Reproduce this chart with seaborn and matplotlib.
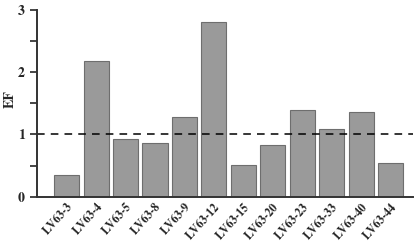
import matplotlib
matplotlib.use("Agg")
import matplotlib.pyplot as plt
from matplotlib.ticker import MultipleLocator
import pandas as pd
import seaborn as sns

samples = ["LV63-3", "LV63-4", "LV63-5", "LV63-8", "LV63-9", "LV63-12",
           "LV63-15", "LV63-20", "LV63-23", "LV63-33", "LV63-40", "LV63-44"]
ef_values = [0.35, 2.18, 0.92, 0.86, 1.28, 2.81, 0.51, 0.83, 1.39, 1.08, 1.36, 0.54]
threshold = 1.0

df = pd.DataFrame({"sample": samples, "EF": ef_values})

sns.set_style("ticks")
plt.rcParams["font.family"] = ["TeX Gyre Termes", "Liberation Serif", "DejaVu Serif"]
plt.rcParams["font.weight"] = "bold"

fig, ax = plt.subplots(figsize=(4.17, 2.43), dpi=100)
sns.barplot(data=df, x="sample", y="EF", color="#9a9a9a", saturation=1,
            edgecolor="#6e6e6e", linewidth=0.8, width=0.85, ax=ax)
ax.axhline(threshold, color="black", linestyle=(0, (5, 4)), linewidth=1.1)

ax.set_ylim(0, 3)
ax.set_xlim(-1.0, 11.75)
ax.yaxis.set_major_locator(MultipleLocator(1))
ax.yaxis.set_minor_locator(MultipleLocator(0.5))
ax.tick_params(axis="y", which="major", length=5, width=1.2, labelsize=10, pad=4)
ax.tick_params(axis="y", which="minor", length=5, width=1.2)
ax.tick_params(axis="x", length=0, labelsize=8.5, pad=3)
for lbl in ax.get_xticklabels():
    lbl.set_rotation(48)
    lbl.set_ha("right")
    lbl.set_va("top")
    lbl.set_rotation_mode("anchor")
    lbl.set_fontweight("bold")
for lbl in ax.get_yticklabels():
    lbl.set_fontweight("bold")
ax.set_xlabel("")
ax.set_ylabel("EF", fontsize=10, fontweight="bold")
ax.yaxis.set_label_coords(-0.055, 0.52)
for side in ("top", "right"):
    ax.spines[side].set_visible(False)
for side in ("left", "bottom"):
    ax.spines[side].set_linewidth(1.4)
    ax.spines[side].set_color("#333333")

fig.subplots_adjust(left=0.089, right=0.99, top=0.96, bottom=0.19)
fig.savefig("out.png", dpi=100)
